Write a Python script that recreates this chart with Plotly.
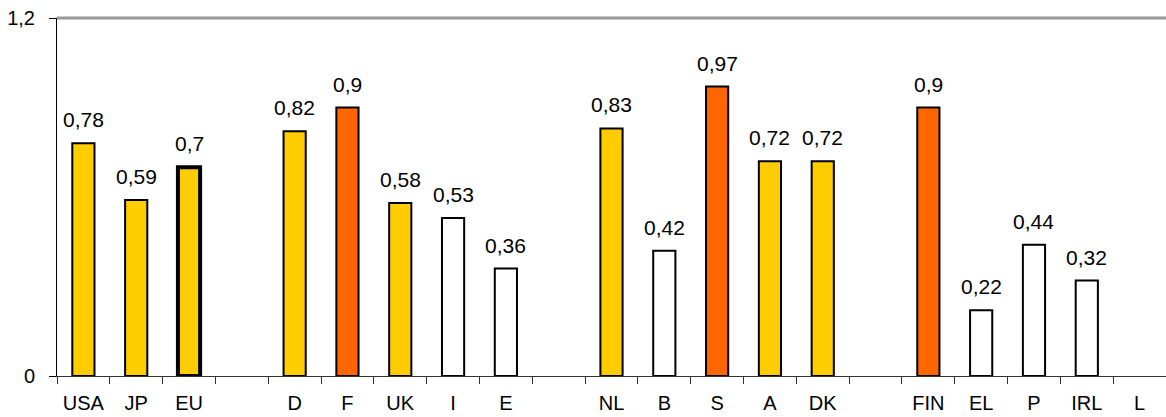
import plotly.graph_objects as go

categories = ["USA", "JP", "EU", " ", "D", "F", "UK", "I", "E", "  ", "NL", "B", "S", "A", "DK", "   ", "FIN", "EL", "P", "IRL", "L"]
values = [0.78, 0.59, 0.7, None, 0.82, 0.9, 0.58, 0.53, 0.36, None, 0.83, 0.42, 0.97, 0.72, 0.72, None, 0.9, 0.22, 0.44, 0.32, None]
groups = ["y", "y", "y", None, "y", "o", "y", "w", "w", None, "y", "w", "o", "y", "y", None, "o", "w", "w", "w", None]
y_ticks = [0, 1.2]
y_tick_labels = ["0", "1,2"]

color_map = {"y": "#FFCC00", "o": "#FF6600", "w": "#FFFFFF", None: "#FFFFFF"}
colors = [color_map[g] for g in groups]
line_widths = [4 if c == "EU" else 2 for c in categories]

FONT = "Liberation Sans, Arial"

fig = go.Figure()
fig.add_trace(go.Bar(
    x=categories, y=values,
    marker=dict(color=colors, line=dict(color="black", width=line_widths)),
    width=0.42,
    hoverinfo="skip",
))

for c, v in zip(categories, values):
    if v is None:
        continue
    fig.add_annotation(x=c, y=v, text=str(v).replace(".", ","), showarrow=False,
                       yanchor="bottom", yshift=10,
                       font=dict(family=FONT, size=21, color="black"))

# gray frame line along the top edge of the plot area
fig.add_shape(type="line", xref="paper", yref="paper", x0=0, x1=1, y0=1, y1=1,
              line=dict(color="#999999", width=3))

fig.update_layout(
    width=1166, height=417,
    margin=dict(l=57, r=0, t=18, b=41, autoexpand=False),
    paper_bgcolor="white", plot_bgcolor="white",
    showlegend=False,
    font=dict(family=FONT, color="black"),
)
fig.update_xaxes(
    type="category", categoryorder="array", categoryarray=categories,
    range=[-0.5, len(categories) - 0.5],
    showline=True, linecolor="#333333", linewidth=1,
    ticks="outside", tickson="boundaries", ticklen=7, tickcolor="#333333",
    showgrid=False, tickfont=dict(family=FONT, size=20), ticklabelstandoff=9,
    automargin=False,
)
fig.update_yaxes(
    range=[0, 1.2], tickvals=y_ticks, ticktext=y_tick_labels,
    showline=True, linecolor="black", linewidth=1,
    ticks="outside", ticklen=7, tickcolor="black",
    showgrid=False, zeroline=False,
    tickfont=dict(family=FONT, size=20), ticklabelstandoff=10,
    automargin=False,
)

fig.write_html("out.html", config={"displayModeBar": False},
               post_script="document.body.style.margin='0';document.body.style.overflow='hidden';")
